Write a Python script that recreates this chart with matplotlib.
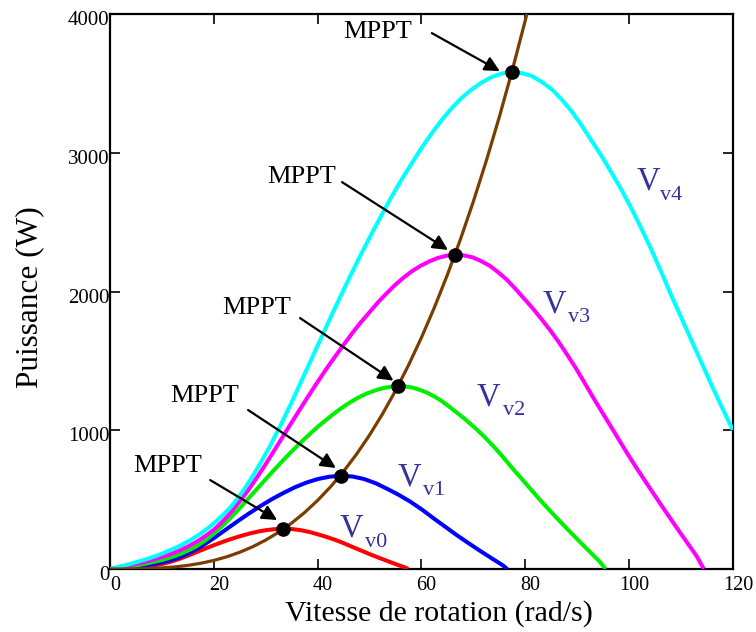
import matplotlib
matplotlib.use("Agg")
import matplotlib.pyplot as plt
import matplotlib.transforms as mtransforms

# ---------------- data ----------------
# Vv0 (red)
w_v0 = [0, 1.67, 3.34, 5.01, 6.68, 8.35, 10.02, 11.69, 13.36, 15.03, 16.70, 18.37, 20.04,
        21.71, 23.38, 25.05, 26.72, 28.39, 30.06, 31.73, 33.40, 35.07, 36.74, 38.41, 40.08,
        41.75, 43.42, 45.09, 46.76, 48.43, 50.10, 51.77, 53.44, 55.11, 56.78, 57.45]
p_v0 = [0, 2.9, 6.4, 11.0, 16.8, 24.9, 36.0, 52.2, 72.5, 96.3, 121.8, 147.3, 172.0,
        195.2, 216.9, 236.4, 254.0, 268.8, 279.9, 287.1, 290.0, 287.7, 279.9, 266.8, 249.4,
        230.6, 209.4, 185.0, 158.1, 132.0, 105.9, 81.2, 57.4, 34.2, 11.6, 0]
# Vv1 (blue)
w_v1 = [0, 2.23, 4.45, 6.68, 8.90, 11.13, 13.35, 15.58, 17.80, 20.03, 22.25, 24.48, 26.70,
        28.93, 31.15, 33.38, 35.60, 37.83, 40.05, 42.28, 44.50, 46.73, 48.95, 51.18, 53.40,
        55.63, 57.85, 60.08, 62.30, 64.53, 66.75, 68.98, 71.20, 73.43, 75.65, 76.54]
p_v1 = [0, 6.7, 14.8, 25.5, 39.0, 57.8, 83.3, 121.0, 168.0, 223.1, 282.2, 341.4, 398.5,
        452.3, 502.7, 547.7, 588.7, 622.9, 648.5, 665.3, 672.0, 666.6, 648.5, 618.2, 577.9,
        534.2, 485.2, 428.7, 366.2, 305.8, 245.3, 188.2, 133.1, 79.3, 26.9, 0]
# Vv2 (green)
w_v2 = [0, 1.39, 2.78, 4.16, 5.55, 6.94, 8.33, 9.71, 11.10, 12.49, 13.88, 15.26, 16.65,
        18.04, 19.43, 20.81, 22.20, 23.59, 24.98, 26.36, 27.75, 29.14, 30.53, 31.91, 33.30,
        34.69, 36.08, 37.46, 38.85, 40.24, 41.63, 43.01, 44.40, 45.79, 47.18, 48.56, 49.95,
        51.34, 52.73, 54.11, 55.50, 56.89, 58.28, 59.66, 61.05, 62.44, 63.83, 65.21, 66.60,
        67.99, 69.38, 70.76, 72.15, 73.54, 74.93, 76.31, 77.70, 79.09, 80.48, 81.86, 83.25,
        84.64, 86.03, 87.41, 88.80, 90.19, 91.58, 92.96, 94.35, 95.46]
p_v2 = [0, 6.6, 13.2, 21.1, 29.0, 38.9, 50.1, 61.9, 76.4, 93.6, 113.3, 137.1, 163.4,
        197.7, 237.2, 282.1, 329.5, 382.2, 437.6, 495.6, 553.6, 611.6, 669.5, 726.2, 781.6,
        835.6, 887.0, 937.1, 985.9, 1032.0, 1074.2, 1116.3, 1154.6, 1190.2, 1221.8, 1249.5,
        1271.9, 1290.3, 1304.8, 1314.0, 1318.0, 1315.4, 1307.5, 1291.6, 1271.9, 1244.2,
        1212.6, 1174.3, 1133.5, 1092.6, 1047.8, 1001.7, 951.6, 897.6, 840.9, 780.3, 718.3,
        659.0, 599.7, 540.4, 481.1, 424.4, 369.0, 315.0, 261.0, 208.2, 155.5, 104.1, 52.7, 0]
# Vv3 (magenta)
w_v3 = [0, 1.66, 3.33, 4.99, 6.65, 8.31, 9.98, 11.64, 13.30, 14.96, 16.63, 18.29, 19.95,
        21.61, 23.28, 24.94, 26.60, 28.26, 29.93, 31.59, 33.25, 34.91, 36.58, 38.24, 39.90,
        41.56, 43.23, 44.89, 46.55, 48.21, 49.88, 51.54, 53.20, 54.86, 56.53, 58.19, 59.85,
        61.51, 63.18, 64.84, 66.50, 68.16, 69.83, 71.49, 73.15, 74.81, 76.48, 78.14, 79.80,
        81.46, 83.13, 84.79, 86.45, 88.11, 89.78, 91.44, 93.10, 94.76, 96.43, 98.09, 99.75,
        101.41, 103.08, 104.74, 106.40, 108.06, 109.73, 111.39, 113.05, 114.38]
p_v3 = [0, 11.3, 22.7, 36.2, 49.8, 66.8, 86.1, 106.5, 131.4, 160.8, 194.8, 235.6, 280.9,
        339.8, 407.7, 484.7, 566.3, 656.9, 752.0, 851.6, 951.3, 1051.0, 1150.6, 1248.0, 1343.1,
        1436.0, 1524.3, 1610.4, 1694.2, 1773.5, 1846.0, 1918.5, 1984.1, 2045.3, 2099.7, 2147.2,
        2185.7, 2217.4, 2242.4, 2258.2, 2265.0, 2260.5, 2246.9, 2219.7, 2185.7, 2138.2, 2083.8,
        2018.1, 1947.9, 1877.7, 1800.7, 1721.4, 1635.3, 1542.5, 1445.1, 1340.9, 1234.4, 1132.5,
        1030.6, 928.7, 826.7, 729.3, 634.2, 541.3, 448.5, 357.9, 267.3, 178.9, 90.6, 0]
# Vv4 (cyan)
w_v4 = [0, 1.94, 3.87, 5.81, 7.74, 9.68, 11.61, 13.55, 15.48, 17.42, 19.35, 21.29, 23.22,
        25.16, 27.09, 29.03, 30.96, 32.90, 34.83, 36.77, 38.70, 40.64, 42.57, 44.51, 46.44,
        48.38, 50.31, 52.25, 54.18, 56.12, 58.05, 59.99, 61.92, 63.86, 65.79, 67.73, 69.66,
        71.60, 73.53, 75.47, 77.40, 79.34, 81.27, 83.21, 85.14, 87.08, 89.01, 90.95, 92.88,
        94.82, 96.75, 98.69, 100.62, 102.56, 104.49, 106.43, 108.36, 110.30, 112.23, 114.17,
        116.10, 118.04, 119.97]
p_v4 = [0, 17.9, 35.8, 57.3, 78.8, 105.7, 136.1, 168.4, 207.8, 254.3, 308.1, 372.5, 444.2,
        537.3, 644.8, 766.5, 895.5, 1038.8, 1189.2, 1346.8, 1504.4, 1662.0, 1819.7, 1973.7,
        2124.1, 2271.0, 2410.7, 2546.8, 2679.3, 2804.7, 2919.3, 3034.0, 3137.8, 3234.5, 3320.5,
        3395.7, 3456.6, 3506.8, 3546.2, 3571.3, 3582.0, 3574.8, 3553.3, 3510.4, 3456.6, 3381.4,
        3295.4, 3191.6, 3080.5, 2969.5, 2847.7, 2722.3, 2586.2, 2439.3, 2285.3, 2120.5, 1952.2,
        1791.0, 1629.8, 1468.6, 1307.4, 1153.4, 1003.0]
# optimal power curve (brown)
w_opt = [0, 2.5, 5, 7.5, 10, 12.5, 15, 17.5, 20, 22.5, 25, 27.5, 30, 32.5, 35, 37.5, 40, 42.5,
         45, 47.5, 50, 52.5, 55, 57.5, 60, 62.5, 65, 67.5, 70, 72.5, 75, 77.5, 80, 82]
p_opt = [0, 0.12, 1.0, 3.26, 7.7, 15.1, 26.1, 41.4, 61.8, 88.0, 120.7, 160.7, 208.6, 265.2,
         331.2, 407.4, 494.4, 593.0, 703.9, 827.9, 965.6, 1117.8, 1285.2, 1468.6, 1668.6,
         1886.0, 2121.5, 2375.8, 2649.7, 2943.8, 3259.0, 3595.9, 3955.2, 4262.0]
# MPPT points
mppt_w = [33.4, 44.5, 55.5, 66.5, 77.4]
mppt_p = [290, 672, 1318, 2265, 3582]

x_ticks = [0, 20, 40, 60, 80, 100, 120]
y_ticks = [0, 1000, 2000, 3000, 4000]
curve_labels = ["v0", "v1", "v2", "v3", "v4"]

# ---------------- figure ----------------
SERIF = ["Liberation Serif", "DejaVu Serif"]
plt.rcParams["font.family"] = SERIF

fig = plt.figure(figsize=(7.56, 6.32), dpi=100)
ax = fig.add_axes([0.1455, 0.0997, 0.824, 0.878])

lw = 2.9
kw = dict(lw=lw, solid_capstyle="butt", solid_joinstyle="round", zorder=3)
ax.plot(w_v0, p_v0, color="#ff0000", **kw)
ax.plot(w_v1, p_v1, color="#0000ff", **kw)
ax.plot(w_v2, p_v2, color="#00f000", **kw)
ax.plot(w_v3, p_v3, color="#ff00ff", **kw)
ax.plot(w_v4, p_v4, color="#00ffff", **kw)
ax.plot(w_opt, p_opt, color="#7a3d00", lw=2.3, solid_joinstyle="round", zorder=4)
ax.plot(mppt_w, mppt_p, "o", color="black", ms=9.5, zorder=5)

ax.set_xlim(0, 120)
ax.set_ylim(0, 4000)
ax.set_xticks(x_ticks)
ax.set_yticks(y_ticks)
ax.set_xticklabels([str(v) for v in x_ticks])
ax.set_yticklabels([str(v) for v in y_ticks])
ax.tick_params(axis="both", direction="in", length=7, width=1.2,
               top=True, right=True)
ax.tick_params(axis="x", pad=5, labelsize=14.5)
ax.tick_params(axis="y", pad=0.5, labelsize=15)
for s in ax.spines.values():
    s.set_linewidth(1.6)

off_y = mtransforms.ScaledTranslation(0, -4 / 100, fig.dpi_scale_trans)
for lbl in ax.get_yticklabels():
    lbl.set_transform(lbl.get_transform() + off_y)
off_x = mtransforms.ScaledTranslation(5 / 100, 0, fig.dpi_scale_trans)
for lbl in ax.get_xticklabels():
    lbl.set_transform(lbl.get_transform() + off_x)

fig.text(439 / 756, 1 - 600 / 632, "Vitesse de rotation (rad/s)", fontsize=21.5,
         ha="center", va="top")
fig.text(30 / 756, 1 - 297 / 632, "Puissance (W)", fontsize=22.5, rotation=90,
         ha="center", va="center")

# MPPT annotations
mppt_text_pos = [(11.2, 742), (18.3, 1247), (28.3, 1881), (37.0, 2825), (51.6, 3870)]
arrow_tail = [(19.3, 641), (26.6, 1146), (36.6, 1809), (44.7, 2789), (62.0, 3863)]
arrow_tip = [(32.2, 353), (43.5, 728), (54.6, 1358), (65.1, 2300), (75.1, 3589)]
for (tx, ty), tail, tip in zip(mppt_text_pos, arrow_tail, arrow_tip):
    ax.text(tx, ty, "MPPT", fontsize=19, ha="center", va="center", zorder=6)
    ax.annotate("", xy=tip, xytext=tail,
                arrowprops=dict(arrowstyle="-|>,head_length=0.6,head_width=0.3",
                                mutation_scale=15, color="black", lw=1.6,
                                shrinkA=0, shrinkB=0), zorder=6)

# V labels
lab_col = "#333399"
V_pos = [(44.3, 231), (55.5, 605), (70.7, 1182), (83.4, 1852), (101.4, 2735)]
sub_pos = [(49.1, 159), (60.3, 533), (75.7, 1110), (88.2, 1780), (105.9, 2659)]
for (vx, vy), (sx, sy), lab in zip(V_pos, sub_pos, curve_labels):
    ax.text(vx, vy, "V", fontsize=23.5, color=lab_col, ha="left", va="baseline", zorder=6)
    ax.text(sx, sy, lab, fontsize=16, color=lab_col, ha="left", va="baseline", zorder=6)

fig.savefig("out.png", dpi=100)
